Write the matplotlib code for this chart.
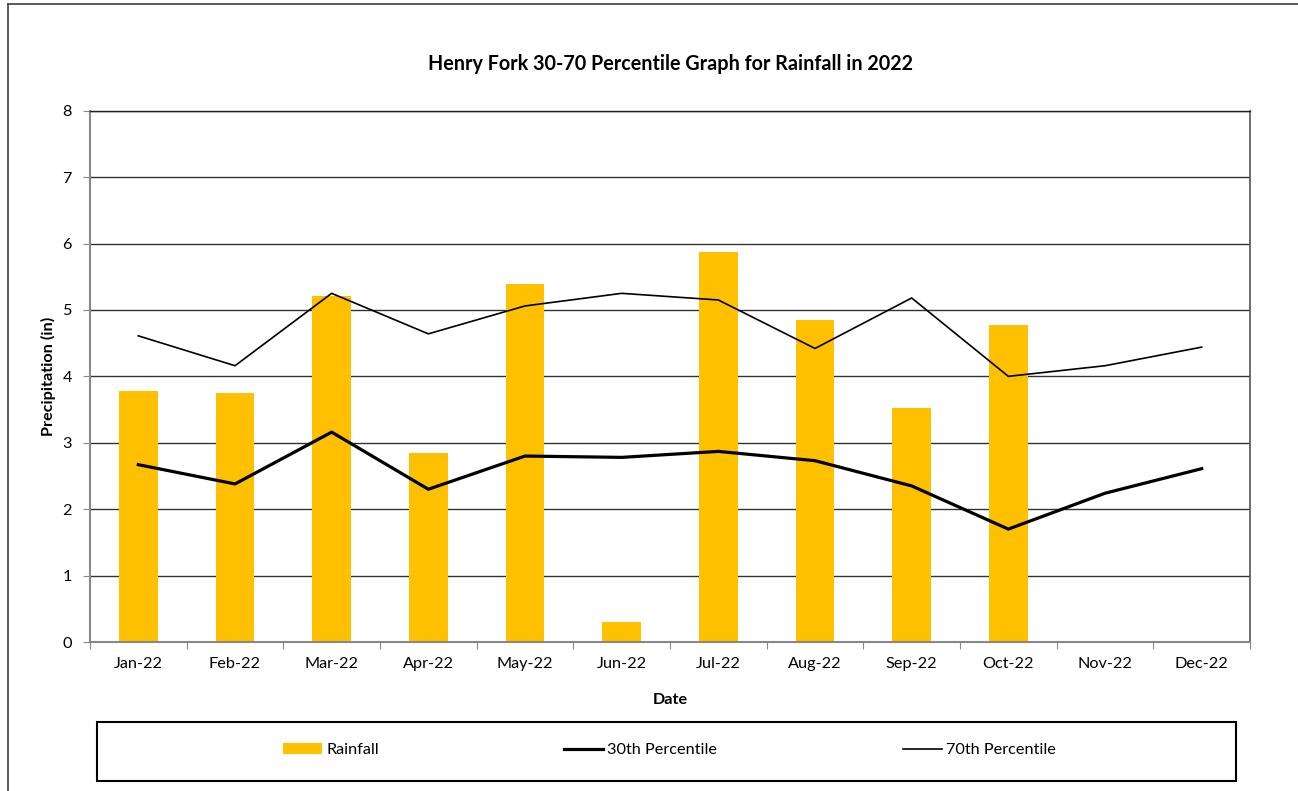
import matplotlib
matplotlib.use("Agg")
import matplotlib.pyplot as plt
from matplotlib.lines import Line2D
from matplotlib.patches import Rectangle, Patch
import numpy as np

months = ["Jan-22", "Feb-22", "Mar-22", "Apr-22", "May-22", "Jun-22",
          "Jul-22", "Aug-22", "Sep-22", "Oct-22", "Nov-22", "Dec-22"]
rainfall = [3.78, 3.75, 5.21, 2.85, 5.39, 0.30, 5.87, 4.85, 3.52, 4.77, np.nan, np.nan]
p30 = [2.67, 2.38, 3.16, 2.30, 2.80, 2.78, 2.87, 2.73, 2.35, 1.70, 2.24, 2.61]
p70 = [4.61, 4.16, 5.25, 4.64, 5.06, 5.25, 5.15, 4.42, 5.18, 4.00, 4.16, 4.44]
yticks = [0, 1, 2, 3, 4, 5, 6, 7, 8]

title = "Henry Fork 30-70 Percentile Graph for Rainfall in 2022"

plt.rcParams['font.family'] = ['Lato', 'DejaVu Sans']

W, H = 1298, 791
FS = 11.7
fig = plt.figure(figsize=(W / 100, H / 100), dpi=100)

# outer chart border (cropped at right/bottom)
fig.add_artist(Line2D([8 / W, 8 / W], [1 - 4 / H, 0], transform=fig.transFigure,
                      color='#404040', lw=1.2))
fig.add_artist(Line2D([8 / W, 1], [1 - 4 / H, 1 - 4 / H], transform=fig.transFigure,
                      color='#404040', lw=1.2))

ax = fig.add_axes([90 / W, 1 - 642 / H, 1160 / W, (642 - 110.7) / H])
x = np.arange(len(months))
ax.bar(x, rainfall, width=0.4, color='#FFC000', zorder=2, label='Rainfall')
ax.plot(x, p30, color='black', lw=2.3, zorder=3, label='30th Percentile')
ax.plot(x, p70, color='black', lw=1.2, zorder=3, label='70th Percentile')

ax.set_xlim(-0.5, len(months) - 0.5)
ax.set_ylim(0, 8)
ax.set_yticks(yticks)
ax.yaxis.grid(True, color='#333333', lw=1.0, zorder=1)
ax.set_axisbelow(True)

ax.set_xticks(np.arange(-0.5, len(months), 1.0))
ax.set_xticklabels([])
ax.set_xticks(x, minor=True)
ax.set_xticklabels(months, minor=True)
ax.tick_params(axis='x', which='major', length=5, color='#888888', direction='out')
ax.tick_params(axis='x', which='minor', length=0, pad=11, labelsize=FS)
ax.tick_params(axis='y', length=5, color='#888888', labelsize=FS, pad=8)

for s in ['left', 'bottom']:
    ax.spines[s].set_color('#888888')
    ax.spines[s].set_linewidth(1.5)
ax.spines['right'].set_color('#555555')
ax.spines['right'].set_linewidth(1.2)
ax.spines['top'].set_color('#222222')
ax.spines['top'].set_linewidth(1.0)

ax.set_ylabel("Precipitation (in)", fontsize=FS, fontweight='bold', labelpad=4.5)
ax.set_xlabel("Date", fontsize=FS, fontweight='bold', labelpad=16)

fig.text(670 / W, 1 - 64 / H, title, ha='center', va='center',
         fontsize=14.2, fontweight='bold')

# legend box
fig.add_artist(Rectangle((97 / W, 1 - 780.7 / H), 1139 / W, 59 / H,
                         transform=fig.transFigure, fill=False,
                         edgecolor='black', lw=1.5))
handles = [Patch(facecolor='#FFC000', edgecolor='none'),
           Line2D([], [], color='black', lw=2.3),
           Line2D([], [], color='black', lw=1.2)]
labels = ['Rainfall', '30th Percentile', '70th Percentile']
fig.legend(handles, labels, loc='center', bbox_to_anchor=(669.5 / W, 1 - 750 / H),
           ncol=3, frameon=False, fontsize=FS, handlelength=2.4,
           handletextpad=0.25, columnspacing=11.4, handleheight=0.7)

fig.savefig("out.png", dpi=100)
